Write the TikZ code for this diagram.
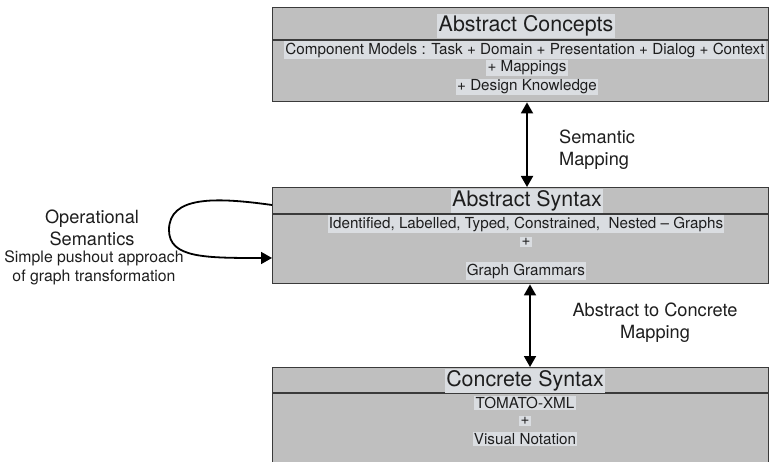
\documentclass[tikz,border=0pt]{standalone}
\usepackage{fontspec}
\setmainfont{TeX Gyre Heros}
\usetikzlibrary{arrows.meta,calc}
\definecolor{boxfill}{HTML}{BFBFBF}
\definecolor{hlfill}{HTML}{DADDE1}
\definecolor{boxline}{HTML}{3A3A3A}
\definecolor{txt}{HTML}{1E1E1E}
\tikzset{
  panel/.style={draw=boxline, line width=1.4pt, fill=boxfill, inner sep=0pt, anchor=north west, minimum width=496pt},
  divider/.style={draw=boxline, line width=1.3pt},
  ttl/.style={fill=hlfill, inner sep=1.5pt, text=txt, font=\fontsize{21.4}{24}\selectfont},
  body/.style={fill=hlfill, inner sep=1.2pt, text=txt, font=\fontsize{15.2}{17}\selectfont},
  lbl/.style={text=txt, inner sep=0pt, font=\fontsize{18.2}{22}\selectfont},
  slbl/.style={text=txt, inner sep=0pt, font=\fontsize{15.8}{19}\selectfont},
  dbl/.style={line width=1.8pt, {Triangle[length=11pt,width=12pt]}-{Triangle[length=11pt,width=12pt]}},
  loopar/.style={line width=1.8pt, -{Triangle[length=11pt,width=12pt]}}
}
\begin{document}
\begin{tikzpicture}[x=1pt,y=-1pt]
\useasboundingbox (0,0) rectangle (771,462);
\clip (0,0) rectangle (771,462);
% panels
\node[panel, minimum height=94pt] (top) at (272,7) {};
\node[panel, minimum height=96pt] (mid) at (272,187) {};
\node[panel, minimum height=110pt] (bot) at (272,367) {};
% dividers
\draw[divider] (top.west |- 0,40) -- (top.east |- 0,40);
\draw[divider] (mid.west |- 0,214) -- (mid.east |- 0,214);
\draw[divider] (bot.west |- 0,393) -- (bot.east |- 0,393);
% top texts
\node[ttl] (t1) at (526,26) {Abstract Concepts};
\node[body] (t2) at (525,50) {Component Models : Task + Domain + Presentation + Dialog + Context};
\node[body] (t3) at (527,68) {+ Mappings};
\node[body] (t4) at (527,87) {+ Design Knowledge};
% middle texts
\node[ttl] (m1) at (527,201) {Abstract Syntax};
\node[body] (m2) at (526,224) {Identified, Labelled, Typed, Constrained,\ \ Nested – Graphs};
\node[body] (m3) at (526,242) {+};
\node[body] (m4) at (526,271) {Graph Grammars};
% bottom texts
\node[ttl] (b1) at (525,381) {Concrete Syntax};
\node[body] (b2) at (525,403) {TOMATO-XML};
\node[body] (b3) at (525,421) {+};
\node[body] (b4) at (525,439) {Visual Notation};
% connectors
\draw[dbl] (527,0 |- top.south) -- (527,0 |- mid.north);
\draw[dbl] (530,0 |- mid.south) -- (530,0 |- bot.north);
\coordinate (lstart) at (mid.west |- 0,205);
\coordinate (lend) at (mid.west |- 0,258);
\draw[loopar] (lstart) .. controls (215,197) and (169,196) .. (169,230)
  .. controls (169,258) and (205,258) .. (lend);
% labels
\node[lbl, align=left, anchor=west] (sem) at (559,150) {Semantic\\Mapping};
\node[lbl, align=center] (a2c) at (655,323) {Abstract to Concrete\\Mapping};
\node[lbl, align=center] (ops) at (92,228) {Operational\\Semantics};
\node[slbl, align=center] (spa) at (94,268) {Simple pushout approach\\of graph transformation};
\end{tikzpicture}
\end{document}
